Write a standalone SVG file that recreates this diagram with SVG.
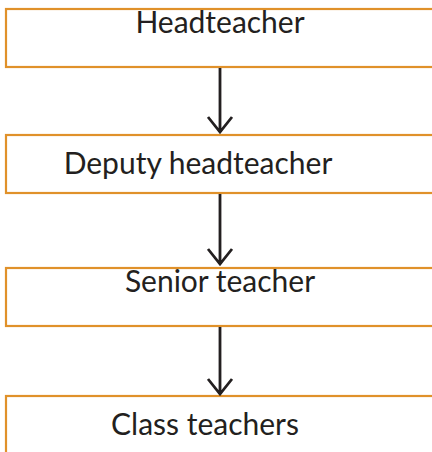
<svg xmlns="http://www.w3.org/2000/svg" width="432" height="452" viewBox="0 0 432 452">
<style>
.box{fill:#fff;stroke:#e0912a;stroke-width:2.2}
.lbl{font-family:Lato,"Open Sans",sans-serif;font-size:30px;fill:#231f20;text-anchor:middle}
.conn{fill:none;stroke:#231f20;stroke-width:2.8}
</style>
<rect width="432" height="452" fill="#fff"/>
<g id="headteacher"><rect class="box" x="6" y="9" width="440" height="58"/><text class="lbl" x="220" y="33">Headteacher</text></g>
<g id="deputy"><rect class="box" x="6" y="135" width="440" height="58"/><text class="lbl" x="198" y="174">Deputy headteacher</text></g>
<g id="senior"><rect class="box" x="6" y="268" width="440" height="58"/><text class="lbl" x="220" y="292">Senior teacher</text></g>
<g id="class"><rect class="box" x="6" y="396" width="440" height="70"/><text class="lbl" x="205" y="435">Class teachers</text></g>
<g id="connectors">
<path class="conn" d="M220 68V132M208 117L220 132L232 117"/>
<path class="conn" d="M220 194V264M208 249L220 264L232 249"/>
<path class="conn" d="M220 327V394M208 379L220 394L232 379"/>
</g>
</svg>
